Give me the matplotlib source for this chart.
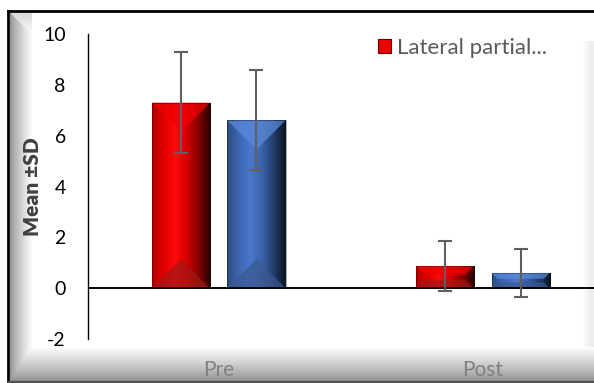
import numpy as np
import matplotlib
matplotlib.use("Agg")
import matplotlib.pyplot as plt
from matplotlib.patches import Rectangle, Polygon, Patch
from matplotlib.colors import LinearSegmentedColormap

# ---- data ----
categories = ["Pre", "Post"]
series_names = ["Lateral partial...", "Other group"]
red_means = [7.3, 0.87]
red_sd = [2.0, 1.0]
blue_means = [6.6, 0.6]
blue_sd = [1.97, 0.95]
yticks = [-2, 0, 2, 4, 6, 8, 10]

FONT = ["Lato", "DejaVu Sans"]
plt.rcParams['font.family'] = FONT

W, H = 594, 383
fig = plt.figure(figsize=(W / 100, H / 100), dpi=100)

# ---- background frame with bevel ----
bg = fig.add_axes([0, 0, 1, 1], zorder=-10)
yy, xx = np.mgrid[0:H, 0:W].astype(float)
img = np.ones((H, W))
L = (xx - 10) / 22.0
B = (380 - yy) / 34.0
T = (yy - 13) / 22.0
R = (590 - xx) / 8.0
left = (L >= 0) & (L < 1) & (L <= B) & (L <= T)
bottom = (B >= 0) & (B < 1) & (B < L)
img[left] = 0.58 + 0.42 * L[left] ** 0.8
img[bottom] = 0.56 + 0.44 * B[bottom] ** 0.8
topleft = (T >= 0) & (T < 1) & (T < L) & (L < 1)
img[topleft] = 0.85 + 0.15 * T[topleft]
right = (R < 1) & (R >= -1) & (B >= 1) & (yy > 40)
img[right] = np.minimum(img[right], 0.93 + 0.07 * np.clip(R[right], 0, 1))
rgb = np.dstack([img, img, img])
bg.imshow(rgb, extent=[0, W, H, 0], aspect='auto', interpolation='bilinear')
bg.plot([8, W], [11, 11], color='black', lw=2)
bg.plot([8, 8], [11, H], color='black', lw=2)
bg.plot([8, W], [381.5, 381.5], color='#505050', lw=1.5)
bg.set_xlim(0, W)
bg.set_ylim(H, 0)
bg.axis('off')

# ---- main axes ----
ax = fig.add_axes([88 / W, 1 - 339 / H, 1 - 88 / W, (339 - 34) / H])
ax.set_facecolor('none')
x = np.arange(len(categories))
width = 0.22
off_r, off_b = -0.144, 0.142
ax.set_xlim(-0.496, 1.42)
ax.set_ylim(-2, 10)

px_x = (W - 88) / (1.42 + 0.496)
px_y = (339 - 34) / 12.0

red_cmap = LinearSegmentedColormap.from_list(
    'r', ['#b00000', '#e00000', '#ff0a0a', '#d00000', '#800000', '#250000'])
blue_cmap = LinearSegmentedColormap.from_list(
    'b', ['#2c4a80', '#3d66b0', '#4a78cc', '#3a62a8', '#223c6a', '#0a1322'])


def bevel_bar(xc, h, cmap, top_col, bot_col):
    x0 = xc - width / 2
    x1 = xc + width / 2
    rect = Rectangle((x0, 0), width, h, facecolor='none', edgecolor='none')
    ax.add_patch(rect)
    grad = np.linspace(0, 1, 256).reshape(1, -1)
    im = ax.imshow(grad, cmap=cmap, extent=[x0, x1, 0, h], aspect='auto',
                   interpolation='bilinear', zorder=2)
    im.set_clip_path(rect)
    hpx = h * px_y
    wpx = width * px_x
    dpx = min(wpx / 2, hpx * 0.38)
    dy = dpx / px_y
    dx = dpx / px_x
    top = Polygon([(x0, h), (x1, h), (x1 - dx, h - dy), (x0 + dx, h - dy)],
                  closed=True, facecolor=top_col, edgecolor='none', alpha=0.75, zorder=3)
    bot = Polygon([(x0, 0), (x1, 0), (x1 - dx, dy), (x0 + dx, dy)],
                  closed=True, facecolor=bot_col, edgecolor='none', alpha=0.7, zorder=3)
    ax.add_patch(top)
    ax.add_patch(bot)
    ax.add_patch(Rectangle((x0, 0), width, h, facecolor='none',
                           edgecolor=(0, 0, 0, 0.35), lw=0.6, zorder=4))


for i in range(len(categories)):
    bevel_bar(x[i] + off_r, red_means[i], red_cmap, '#f00000', '#a01818')
    bevel_bar(x[i] + off_b, blue_means[i], blue_cmap, '#5a88d8', '#3a5890')

ax.errorbar(x + off_r, red_means, yerr=red_sd, fmt='none', ecolor='#5f5f5f',
            elinewidth=1.5, capsize=5, capthick=1.5, zorder=5)
ax.errorbar(x + off_b, blue_means, yerr=blue_sd, fmt='none', ecolor='#5f5f5f',
            elinewidth=1.5, capsize=5, capthick=1.5, zorder=5)

ax.axhline(0, color='black', lw=1.4, zorder=4)

for s in ['top', 'right', 'bottom']:
    ax.spines[s].set_visible(False)
ax.spines['left'].set_color('#000000')
ax.spines['left'].set_linewidth(1.0)

ax.set_yticks(yticks)
ax.set_yticklabels([str(t) for t in yticks])
ax.tick_params(axis='y', length=0, pad=16, labelsize=14, labelcolor='black')
ax.set_xticks(x)
ax.set_xticklabels(categories)
ax.tick_params(axis='x', length=0, pad=15, labelsize=15, labelcolor='#808080')

ax.set_ylabel('Mean ±SD', fontsize=15, fontweight='heavy', color='#404040')
ax.yaxis.set_label_coords(-46 / (W - 88), 0.5)

handle = Patch(facecolor='#ee0000', edgecolor='#600000', lw=0.8)
ax.legend([handle], [series_names[0]], loc='center left',
          bbox_to_anchor=(378 / W, 1 - 48 / H), bbox_transform=fig.transFigure,
          frameon=False, fontsize=16, handlelength=0.6, handleheight=0.6,
          handletextpad=0.25, borderpad=0, borderaxespad=0, labelcolor='#595959')

fig.savefig('out.png', dpi=100)
